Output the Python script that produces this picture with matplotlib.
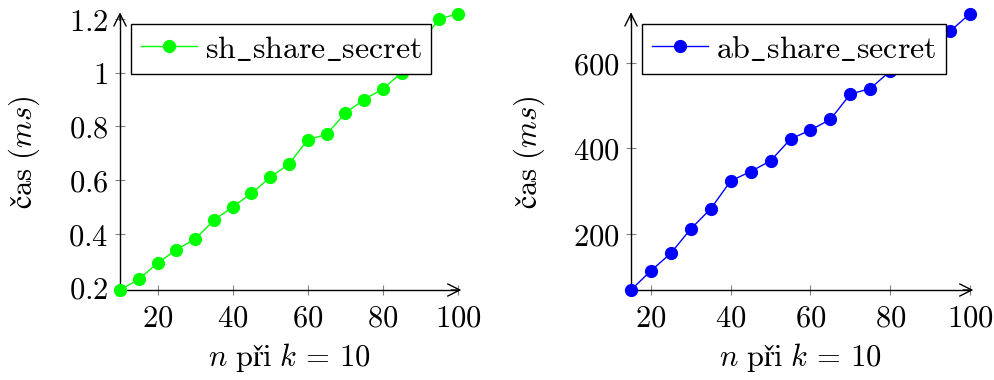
import matplotlib
matplotlib.use("Agg")
import matplotlib.pyplot as plt
from matplotlib.ticker import FuncFormatter

plt.rcParams['mathtext.fontset'] = 'cm'
plt.rcParams['font.size'] = 22

# data
n_sh = [10, 15, 20, 25, 30, 35, 40, 45, 50, 55, 60, 65, 70, 75, 80, 85, 90, 95, 100]
t_sh = [0.19, 0.23, 0.29, 0.34, 0.38, 0.45, 0.50, 0.55, 0.61, 0.66, 0.75, 0.77,
        0.85, 0.90, 0.94, 1.00, 1.11, 1.20, 1.22]

n_ab = [15, 20, 25, 30, 35, 40, 45, 50, 55, 60, 65, 70, 75, 80, 85, 90, 95, 100]
t_ab = [69, 114, 155, 212, 259, 324, 346, 371, 422, 443, 468, 527, 540, 581,
        615, 645, 674, 715]

x_ticks = [20, 40, 60, 80, 100]
y_ticks_sh = [0.2, 0.4, 0.6, 0.8, 1.0, 1.2]
y_ticks_ab = [200, 400, 600]


def tex(v, pos=None):
    return r'$%g$' % v


def draw(ax, x, y, color, name, xlim, ylim, yticks):
    ax.plot(x, y, color=color, lw=1.0, marker='o', markersize=8.5,
            clip_on=False, zorder=3, label=r'$\mathrm{%s}$' % name)
    ax.set_xlim(*xlim)
    ax.set_ylim(*ylim)
    ax.set_xticks(x_ticks)
    ax.set_yticks(yticks)
    ax.xaxis.set_major_formatter(FuncFormatter(tex))
    ax.yaxis.set_major_formatter(FuncFormatter(tex))
    for s in ['top', 'right']:
        ax.spines[s].set_visible(False)
    for s in ['left', 'bottom']:
        ax.spines[s].set_linewidth(1.0)
    ax.tick_params(direction='inout', length=7, width=0.8, color='#808080',
                   labelsize=22)
    ax.tick_params(axis='x', pad=6)
    ax.tick_params(axis='y', pad=5)
    # arrow heads at the ends of the axis lines
    ax.annotate('', xy=(1.01, 0), xytext=(0.98, 0), xycoords='axes fraction',
                arrowprops=dict(arrowstyle='->', lw=1.0, color='black',
                                shrinkA=0, shrinkB=0))
    ax.annotate('', xy=(0, 1.01), xytext=(0, 0.98), xycoords='axes fraction',
                arrowprops=dict(arrowstyle='->', lw=1.0, color='black',
                                shrinkA=0, shrinkB=0))
    ax.set_xlabel(r'$n\ \mathrm{při}\ k\,=\,10$', fontsize=22, labelpad=6)
    ax.set_ylabel(r'$\mathrm{čas}\ (ms)$', fontsize=22)
    leg = ax.legend(loc='upper left', bbox_to_anchor=(0.033, 0.967),
                    fancybox=False, framealpha=1, edgecolor='black',
                    fontsize=23, handlelength=1.75, handletextpad=0.25,
                    borderpad=0.3, borderaxespad=0)
    leg.get_frame().set_linewidth(1.0)
    leg.set_zorder(5)


def main():
    fig = plt.figure(figsize=(9.94, 3.8), dpi=100)
    ax1 = fig.add_axes([120 / 994, 90 / 380, 338 / 994, 275 / 380])
    ax2 = fig.add_axes([631 / 994, 90 / 380, 339 / 994, 275 / 380])

    draw(ax1, n_sh, t_sh, (0, 1, 0), r'sh\_share\_secret', (10, 100),
         (0.19, 1.215), y_ticks_sh)
    draw(ax2, n_ab, t_ab, (0, 0, 1), r'ab\_share\_secret', (15, 100),
         (69, 712), y_ticks_ab)

    ax1.yaxis.set_label_coords(-0.23, 0.5)
    ax2.yaxis.set_label_coords(-0.248, 0.5)

    fig.savefig("out.png", dpi=100)


main()
